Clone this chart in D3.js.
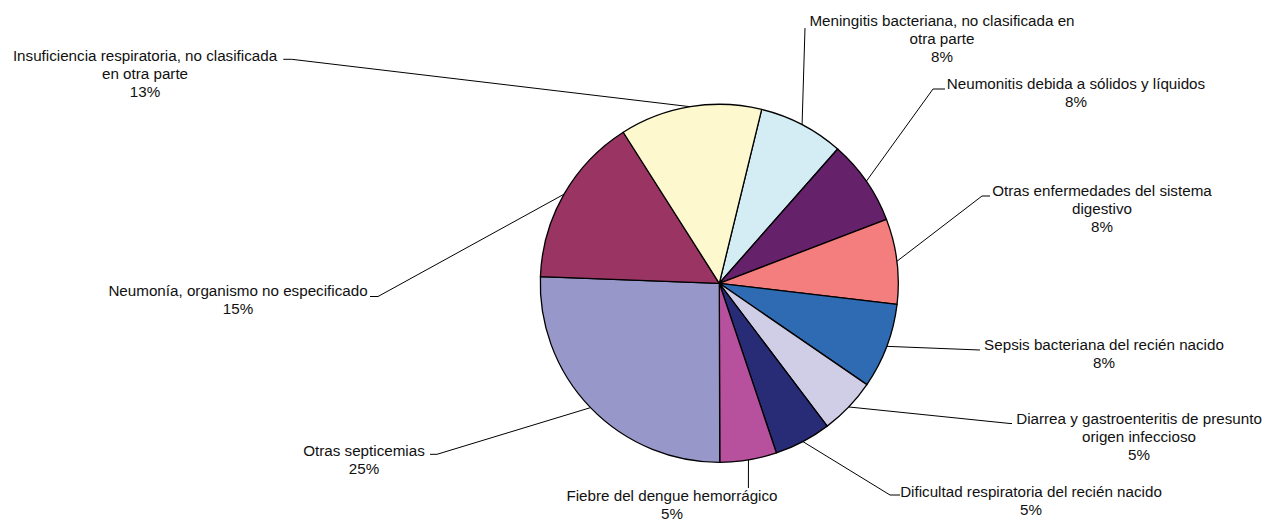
<!DOCTYPE html>
<html>
<head>
<meta charset="utf-8">
<script src="https://cdn.jsdelivr.net/npm/d3@7"></script>
<style>
  html, body { margin: 0; padding: 0; background: #fff; }
  svg { display: block; }
  text { font-family: "Liberation Sans", Arial, sans-serif; font-size: 15.2px; fill: #111; }
</style>
</head>
<body>
<svg id="chart" width="1268" height="521"></svg>
<script>
// ---- data ----
const categories = [
  "Meningitis bacteriana, no clasificada en otra parte",
  "Neumonitis debida a sólidos y líquidos",
  "Otras enfermedades del sistema digestivo",
  "Sepsis bacteriana del recién nacido",
  "Diarrea y gastroenteritis de presunto origen infeccioso",
  "Dificultad respiratoria del recién nacido",
  "Fiebre del dengue hemorrágico",
  "Otras septicemias",
  "Neumonía, organismo no especificado",
  "Insuficiencia respiratoria, no clasificada en otra parte"
];
const values = [3, 3, 3, 3, 2, 2, 2, 10, 6, 5];
const percentLabels = ["8%", "8%", "8%", "8%", "5%", "5%", "5%", "25%", "15%", "13%"];
const labelLines = [
  ["Meningitis bacteriana, no clasificada en", "otra parte"],
  ["Neumonitis debida a sólidos y líquidos"],
  ["Otras enfermedades del sistema", "digestivo"],
  ["Sepsis bacteriana del recién nacido"],
  ["Diarrea y gastroenteritis de presunto", "origen infeccioso"],
  ["Dificultad respiratoria del recién nacido"],
  ["Fiebre del dengue hemorrágico"],
  ["Otras septicemias"],
  ["Neumonía, organismo no especificado"],
  ["Insuficiencia respiratoria, no clasificada", "en otra parte"]
];
const colors = ["#d4edf4", "#65216a", "#f47e7e", "#2e6bb3", "#d0cde6",
                "#282b76", "#b8519d", "#9897ca", "#993463", "#fef8cf"];

// ---- layout (label placement) ----
const cx = 719.3, cy = 283.3, radius = 179;
const startDeg = 13.7;
const lineH = 18;
const labelLayout = [
  { tx: 942,  ty: 26,    elbow: [805, 28],    end: [805, 28] },
  { tx: 1076, ty: 88.5,  elbow: [933, 89],    end: [945, 89] },
  { tx: 1102, ty: 195.5, elbow: [982, 196],   end: [990, 196] },
  { tx: 1104, ty: 350,   elbow: [980, 350],   end: [980, 350] },
  { tx: 1139, ty: 424,   elbow: [1010, 423.5],end: [1012, 423.5] },
  { tx: 1031, ty: 496.5, elbow: [890, 495],   end: [900, 495] },
  { tx: 672,  ty: 500.5, elbow: [748.4, 488], end: [748.4, 488] },
  { tx: 364,  ty: 456,   elbow: [437, 454.3], end: [430, 454.3] },
  { tx: 238,  ty: 295.7, elbow: [378, 296.5], end: [370, 296.5] },
  { tx: 145,  ty: 60.7,  elbow: [291.7, 59.3],end: [283.3, 59.3] }
];

const svg = d3.select("#chart");
const g = svg.append("g").attr("transform", `translate(${cx},${cy})`);

const a0 = startDeg * Math.PI / 180;
const pie = d3.pie().sort(null).value(d => d).startAngle(a0).endAngle(a0 + 2 * Math.PI);
const arcs = pie(values);
const arc = d3.arc().innerRadius(0).outerRadius(radius);

g.selectAll("path.slice")
  .data(arcs)
  .join("path")
  .attr("class", "slice")
  .attr("d", arc)
  .attr("fill", (d, i) => colors[i])
  .attr("stroke", "#000")
  .attr("stroke-width", 1.3)
  .attr("stroke-linejoin", "round");

// leader lines
const line = d3.line();
svg.selectAll("path.leader")
  .data(arcs)
  .join("path")
  .attr("class", "leader")
  .attr("d", (d, i) => {
    const m = (d.startAngle + d.endAngle) / 2;
    const p0 = [cx + radius * Math.sin(m), cy - radius * Math.cos(m)];
    const L = labelLayout[i];
    return line([p0, L.elbow, L.end]);
  })
  .attr("fill", "none")
  .attr("stroke", "#000")
  .attr("stroke-width", 1);

// labels
const labels = svg.selectAll("text.lbl")
  .data(arcs)
  .join("text")
  .attr("class", "lbl")
  .attr("text-anchor", "middle")
  .attr("x", (d, i) => labelLayout[i].tx)
  .attr("y", (d, i) => labelLayout[i].ty);

labels.each(function (d, i) {
  const t = d3.select(this);
  const lines = labelLines[i].concat([percentLabels[i]]);
  lines.forEach((s, k) => {
    t.append("tspan")
      .attr("x", labelLayout[i].tx)
      .attr("y", labelLayout[i].ty + k * lineH)
      .text(s);
  });
});
</script>
</body>
</html>
